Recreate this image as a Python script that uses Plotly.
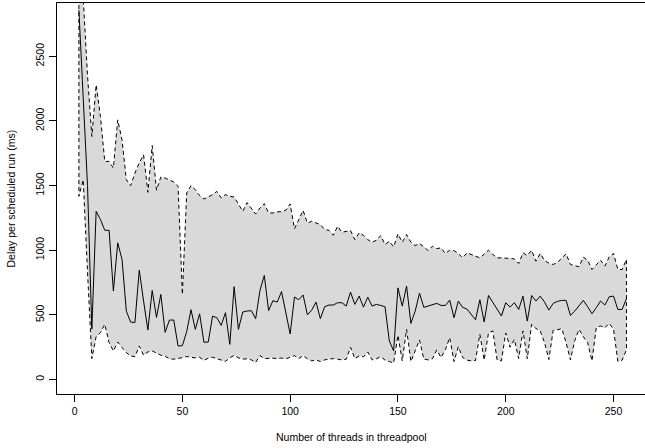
import plotly.graph_objects as go

threads = list(range(2, 257, 2))

mean_delay = [
    2857, 2200, 1500, 390, 1301, 1237, 1154, 1154, 684, 1057,
    929, 529, 444, 441, 846, 607, 383, 689, 480, 658,
    365, 460, 460, 259, 262, 370, 540, 388, 508, 288,
    290, 490, 478, 419, 517, 272, 718, 388, 522, 530,
    532, 470, 690, 805, 533, 610, 599, 680, 517, 352,
    638, 617, 654, 500, 537, 599, 471, 563, 576, 576,
    594, 594, 568, 676, 581, 645, 560, 637, 568, 581,
    573, 563, 298, 221, 709, 568, 722, 434, 529, 668,
    558, 568, 573, 589, 573, 573, 614, 478, 607, 558,
    545, 504, 462, 617, 445, 650, 599, 542, 491, 594,
    560, 594, 542, 645, 452, 650, 607, 645, 599, 537,
    589, 604, 612, 612, 496, 529, 568, 612, 563, 509,
    555, 607, 576, 640, 645, 542, 542, 625,
]

upper_delay = [
    3200, 2950, 2350, 1880, 2279, 2034, 1687, 1687, 1636, 2008,
    1854, 1546, 1499, 1597, 1676, 1738, 1448, 1810, 1464, 1566,
    1558, 1546, 1528, 1494, 658, 1443, 1499, 1468, 1422, 1396,
    1412, 1430, 1455, 1404, 1430, 1417, 1412, 1352, 1301, 1368,
    1327, 1280, 1327, 1360, 1288, 1288, 1297, 1298, 1309, 1358,
    1165, 1243, 1308, 1210, 1224, 1211, 1198, 1160, 1154, 1116,
    1185, 1139, 1147, 1152, 1082, 1134, 1116, 1082, 1062, 1077,
    1113, 1044, 1069, 1026, 1126, 1062, 1121, 1062, 1036, 1052,
    1026, 997, 1031, 1013, 1018, 975, 1000, 997, 975, 941,
    980, 967, 949, 941, 970, 1000, 967, 941, 941, 938,
    933, 933, 897, 980, 959, 1000, 915, 975, 920, 900,
    890, 905, 940, 972, 890, 882, 872, 946, 923, 851,
    885, 923, 877, 949, 975, 851, 851, 929,
]

lower_delay = [
    1417, 1545, 830, 162, 332, 362, 427, 285, 221, 290,
    247, 208, 182, 177, 259, 188, 213, 221, 203, 188,
    180, 160, 157, 162, 169, 178, 172, 167, 172, 148,
    165, 172, 160, 152, 140, 168, 186, 168, 158, 160,
    152, 132, 185, 162, 165, 165, 162, 166, 160, 172,
    185, 162, 185, 160, 144, 152, 139, 152, 157, 162,
    157, 152, 157, 250, 162, 182, 175, 213, 152, 160,
    177, 150, 139, 128, 342, 144, 388, 139, 220, 306,
    157, 152, 160, 229, 170, 230, 324, 139, 254, 170,
    150, 144, 147, 350, 150, 360, 376, 152, 144, 360,
    250, 310, 162, 376, 160, 427, 395, 376, 285, 155,
    380, 385, 393, 285, 152, 300, 388, 330, 285, 144,
    401, 414, 400, 435, 388, 140, 150, 230,
]

x_ticks = [0, 50, 100, 150, 200, 250]
y_ticks = [0, 500, 1000, 1500, 2000, 2500]

FONT = "Liberation Sans, Arial, Helvetica, sans-serif"

poly_x = threads + threads[::-1] + [threads[0]]
poly_y = upper_delay + lower_delay[::-1] + [upper_delay[0]]

fig = go.Figure()
fig.add_trace(go.Scatter(
    x=poly_x, y=poly_y, mode="lines", fill="toself",
    fillcolor="#D9D9D9",
    line=dict(color="black", width=1, dash="4px,3px"),
    hoverinfo="skip", showlegend=False,
))
fig.add_trace(go.Scatter(
    x=threads, y=mean_delay, mode="lines",
    line=dict(color="black", width=1),
    showlegend=False,
))

fig.update_layout(
    width=645, height=448,
    margin=dict(l=57, r=0, t=3, b=54),
    paper_bgcolor="white", plot_bgcolor="white",
    font=dict(family=FONT, size=10.5, color="black"),
    showlegend=False,
    xaxis=dict(
        range=[-8.16, 264.6], tickmode="array", tickvals=x_ticks,
        ticktext=[str(v) for v in x_ticks],
        showgrid=False, zeroline=False,
        showline=True, linecolor="black", linewidth=1, mirror=True,
        ticks="outside", ticklen=7, tickcolor="black", tickwidth=1,
        tickfont=dict(family=FONT, size=10.5, color="black"),
        ticklabelstandoff=0,
    ),
    yaxis=dict(
        range=[-112, 2912], tickmode="array", tickvals=y_ticks,
        ticktext=[str(v) for v in y_ticks],
        showgrid=False, zeroline=False,
        showline=True, linecolor="black", linewidth=1, mirror=False,
        ticks="outside", ticklen=7, tickcolor="black", tickwidth=1,
        tickangle=-90,
        tickfont=dict(family=FONT, size=10.5, color="black"),
        ticklabelstandoff=1,
    ),
    annotations=[
        dict(text="Number of threads in threadpool", xref="paper", yref="paper",
             x=0.5, y=0, xanchor="center", yanchor="middle", yshift=-43,
             showarrow=False, font=dict(family=FONT, size=10.5, color="black")),
        dict(text="Delay per scheduled run (ms)", xref="paper", yref="paper",
             x=0, y=0.5, xanchor="center", yanchor="middle", xshift=-47,
             textangle=-90, showarrow=False,
             font=dict(family=FONT, size=10.5, color="black")),
    ],
)

fig.write_html(
    "out.html",
    config={"displayModeBar": False},
    post_script="document.body.style.margin='0';",
)
